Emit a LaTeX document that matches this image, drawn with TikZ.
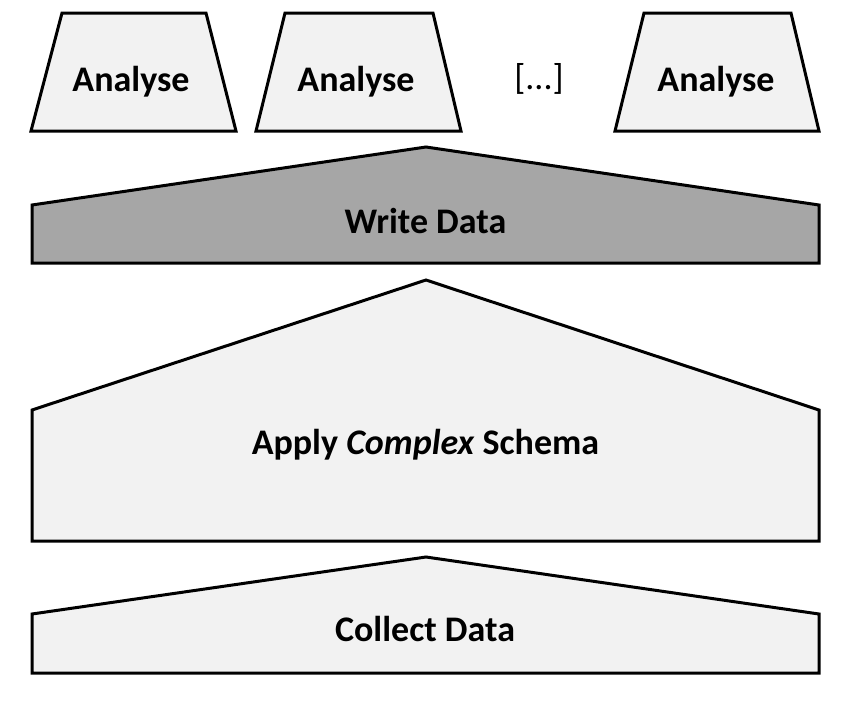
\documentclass[tikz,border=0pt]{standalone}
\usepackage{fontspec}
\setmainfont{Carlito}
\begin{document}
\begin{tikzpicture}[x=1pt,y=-1pt,
  shapeline/.style={draw=black,line width=3pt,line join=miter},
  light/.style={shapeline,fill={rgb,255:red,242;green,242;blue,242}},
  dark/.style={shapeline,fill={rgb,255:red,166;green,166;blue,166}},
  lbl/.style={font=\fontsize{36}{42}\selectfont\bfseries,inner sep=0pt,anchor=base}]
\useasboundingbox (0,0) rectangle (868,718);
% analyse trapezoids
\draw[light] (31,131) -- (62,13) -- (206,13) -- (236,131) -- cycle;
\draw[light] (256,131) -- (285,13) -- (433,13) -- (461,131) -- cycle;
\draw[light] (615,131) -- (644,13) -- (791,13) -- (819,131) -- cycle;
\node[lbl] (a1) at (131,91) {Analyse};
\node[lbl] (a2) at (356,91) {Analyse};
\node[lbl,font=\fontsize{36}{42}\selectfont] (dots) at (539,89) {[...]};
\node[lbl] (a3) at (716,91) {Analyse};
% write data
\draw[dark] (32,263) -- (32,205) -- (426,147) -- (819,205) -- (819,263) -- cycle;
\node[lbl] (wd) at (425.5,233) {Write Data};
% apply schema
\draw[light] (32,541) -- (32,410) -- (426,280) -- (819,410) -- (819,541) -- cycle;
\node[lbl] (ap) at (425.5,454) {Apply \textit{Complex} Schema};
% collect
\draw[light] (32,673) -- (32,614) -- (426,557) -- (819,614) -- (819,673) -- cycle;
\node[lbl] (cd) at (425,641) {Collect Data};
\end{tikzpicture}
\end{document}
